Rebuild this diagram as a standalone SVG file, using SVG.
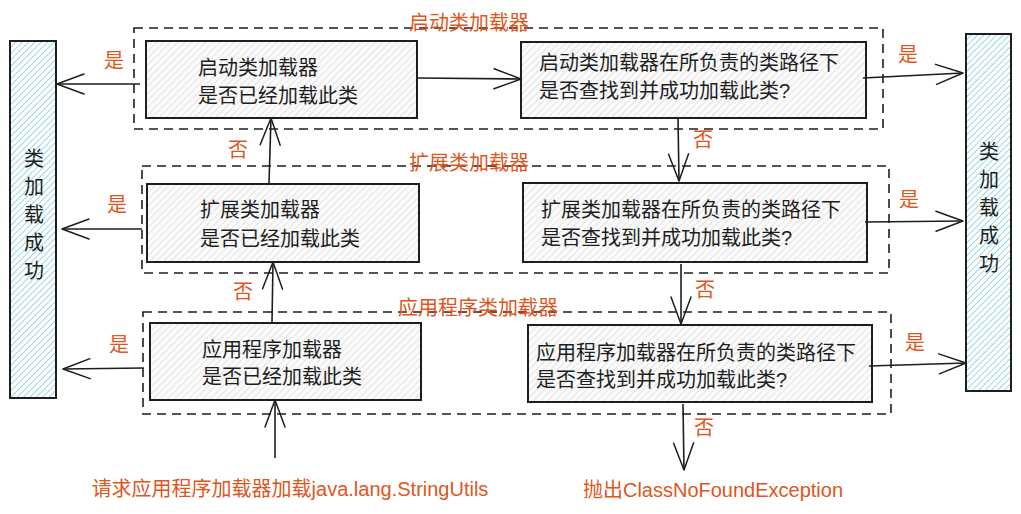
<svg xmlns="http://www.w3.org/2000/svg" width="1021" height="514" viewBox="0 0 1021 514">
<defs>
<pattern id="hg" patternUnits="userSpaceOnUse" width="5" height="5" patternTransform="rotate(45)">
<rect width="5" height="5" fill="#fbfbfb"/>
<line x1="0" y1="0" x2="0" y2="5" stroke="#d4d4d4" stroke-width="1.2"/>
</pattern>
<pattern id="hc" patternUnits="userSpaceOnUse" width="4.5" height="4.5" patternTransform="rotate(45)">
<rect width="4.5" height="4.5" fill="#ffffff"/>
<line x1="0" y1="0" x2="0" y2="4.5" stroke="#7fd0de" stroke-width="1.6"/>
</pattern>
<marker id="ah" viewBox="0 0 30 24" refX="29" refY="12" markerWidth="30" markerHeight="24" markerUnits="userSpaceOnUse" orient="auto">
<path d="M2,2 L29,12 L2,22" fill="none" stroke="#1e1e1e" stroke-width="1.5" stroke-linecap="round" stroke-linejoin="round"/>
</marker>
</defs>
<style>
.box{fill:url(#hg);stroke:#1e1e1e;stroke-width:2}
.bar{fill:url(#hc);stroke:#1e1e1e;stroke-width:2}
.grp{fill:none;stroke:#1e1e1e;stroke-width:1.6;stroke-dasharray:9 6}
.t{font-family:"Liberation Sans","Noto Sans CJK SC",sans-serif;font-size:20px;fill:#1e1e1e}
.o{font-family:"Liberation Sans","Noto Sans CJK SC",sans-serif;font-size:20px;fill:#e0561c}
.c{fill:none;stroke:#1e1e1e;stroke-width:1.6;marker-end:url(#ah)}
</style>
<rect width="1021" height="514" fill="#ffffff"/>

<g id="groups">
<rect class="grp" x="134" y="28" width="749" height="101"/>
<rect class="grp" x="142" y="166" width="747" height="107"/>
<rect class="grp" x="143" y="312" width="748" height="102"/>
<text class="o" x="469" y="30" text-anchor="middle">启动类加载器</text>
<text class="o" x="469" y="170" text-anchor="middle">扩展类加载器</text>
<text class="o" x="478" y="315" text-anchor="middle">应用程序类加载器</text>
</g>

<g id="left-bar">
<rect class="bar" x="10" y="41" width="46" height="357"/>
<text class="t" x="34" text-anchor="middle"><tspan x="34" y="166">类</tspan><tspan x="34" y="194">加</tspan><tspan x="34" y="222">载</tspan><tspan x="34" y="250">成</tspan><tspan x="34" y="278">功</tspan></text>
</g>
<g id="right-bar">
<rect class="bar" x="966" y="34" width="45" height="357"/>
<text class="t" x="989" text-anchor="middle"><tspan x="989" y="159">类</tspan><tspan x="989" y="187">加</tspan><tspan x="989" y="215">载</tspan><tspan x="989" y="243">成</tspan><tspan x="989" y="271">功</tspan></text>
</g>

<g id="a1">
<rect class="box" x="146" y="41" width="271" height="77"/>
<text class="t" x="198" y="75">启动类加载器</text>
<text class="t" x="198" y="103">是否已经加载此类</text>
</g>
<g id="b1">
<rect class="box" x="521" y="42" width="345" height="76"/>
<text class="t" x="539" y="70">启动类加载器在所负责的类路径下</text>
<text class="t" x="539" y="98">是否查找到并成功加载此类?</text>
</g>
<g id="a2">
<rect class="box" x="147" y="184" width="272" height="78"/>
<text class="t" x="200" y="217">扩展类加载器</text>
<text class="t" x="200" y="246">是否已经加载此类</text>
</g>
<g id="b2">
<rect class="box" x="523" y="183" width="344" height="79"/>
<text class="t" x="541" y="217">扩展类加载器在所负责的类路径下</text>
<text class="t" x="541" y="245">是否查找到并成功加载此类?</text>
</g>
<g id="a3">
<rect class="box" x="150" y="323" width="271" height="77"/>
<text class="t" x="202" y="357">应用程序加载器</text>
<text class="t" x="202" y="384">是否已经加载此类</text>
</g>
<g id="b3">
<rect class="box" x="528" y="325" width="344" height="77"/>
<text class="t" x="536" y="360">应用程序加载器在所负责的类路径下</text>
<text class="t" x="536" y="387">是否查找到并成功加载此类?</text>
</g>

<g id="connectors">
<path class="c" d="M140,84 L57,84"/>
<path class="c" d="M417,78 L521,79"/>
<path class="c" d="M863,78 L963,73"/>
<path class="c" d="M678,118 L679,181"/>
<path class="c" d="M865,222 L963,221"/>
<path class="c" d="M681,264 L681,324"/>
<path class="c" d="M869,366 L966,363"/>
<path class="c" d="M683,404 L684,470"/>
<path class="c" d="M269,183 L271,118"/>
<path class="c" d="M272,322 L273,262"/>
<path class="c" d="M275,458 L275,400"/>
<path class="c" d="M142,229 L62,229"/>
<path class="c" d="M144,368 L63,369"/>
</g>

<g id="labels">
<text class="o" x="114" y="68" text-anchor="middle">是</text>
<text class="o" x="117" y="212" text-anchor="middle">是</text>
<text class="o" x="119" y="352" text-anchor="middle">是</text>
<text class="o" x="908" y="62" text-anchor="middle">是</text>
<text class="o" x="909" y="207" text-anchor="middle">是</text>
<text class="o" x="915" y="350" text-anchor="middle">是</text>
<text class="o" x="703" y="147" text-anchor="middle">否</text>
<text class="o" x="705" y="297" text-anchor="middle">否</text>
<text class="o" x="704" y="435" text-anchor="middle">否</text>
<text class="o" x="238" y="157" text-anchor="middle">否</text>
<text class="o" x="243" y="299" text-anchor="middle">否</text>
<text class="o" x="290" y="496" text-anchor="middle">请求应用程序加载器加载java.lang.StringUtils</text>
<text class="o" x="713" y="497" text-anchor="middle">抛出ClassNoFoundException</text>
</g>
</svg>
